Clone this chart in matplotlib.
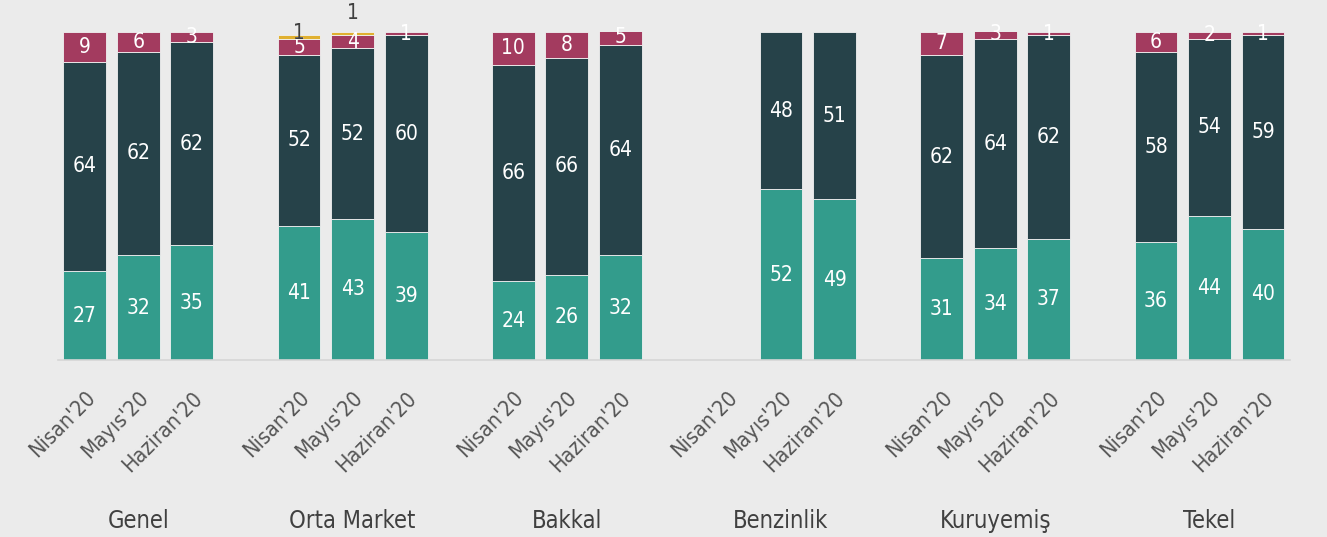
import matplotlib
matplotlib.use("Agg")
import matplotlib.pyplot as plt
import numpy as np

groups = ["Genel", "Orta Market", "Bakkal", "Benzinlik", "Kuruyemiş", "Tekel"]
months = ["Nisan'20", "Mayıs'20", "Haziran'20"]

# values per group, per month (Nisan, Mayıs, Haziran); None = no bar
teal = [[27, 32, 35], [41, 43, 39], [24, 26, 32], [None, 52, 49], [31, 34, 37], [36, 44, 40]]
dark = [[64, 62, 62], [52, 52, 60], [66, 66, 64], [None, 48, 51], [62, 64, 62], [58, 54, 59]]
maroon = [[9, 6, 3], [5, 4, 1], [10, 8, 5], [None, 0, 0], [7, 3, 1], [6, 2, 1]]
yellow = [[0, 0, 0], [1, 1, 0], [0, 0, 0], [None, 0, 0], [0, 0, 0], [0, 0, 0]]

colors = ["#339C8C", "#264249", "#A33B5F", "#E0B030"]
bg = "#EBEBEB"

plt.rcParams['font.family'] = ['DejaVu Sans']
plt.rcParams['font.stretch'] = 'condensed'

fig = plt.figure(figsize=(13.27, 5.37), dpi=100, facecolor=bg)
ax = fig.add_axes([0.0437, 0.3296, 0.9283, 0.6108], facecolor=bg)

xpos, xlabels = [], []
for gi in range(len(groups)):
    for mi in range(len(months)):
        x = gi * 4 + mi
        xpos.append(x)
        xlabels.append(months[mi])
        if teal[gi][mi] is None:
            continue
        segs = [teal[gi][mi], dark[gi][mi], maroon[gi][mi], yellow[gi][mi]]
        bottom = 0
        for si, v in enumerate(segs):
            if v == 0:
                continue
            ax.bar(x, v, bottom=bottom, width=0.8, color=colors[si],
                   edgecolor="#F2F2F2", linewidth=0.6)
            if si < 3:
                ax.text(x, bottom + v / 2, str(v), ha="center", va="center",
                        color="white", fontsize=15)
            else:
                # yellow labels placed by hand in the original
                dy = 3 if mi == 0 else 15
                ax.annotate(str(v), (x, bottom + v / 2), xytext=(0, dy),
                            textcoords="offset points", ha="center", va="center",
                            color="#404040", fontsize=15)
            bottom += v

ax.set_xlim(-0.5, 22.5)
ax.set_ylim(0, 100)
ax.set_yticks([])
ax.set_xticks(xpos)
ax.set_xticklabels(xlabels, rotation=45, ha="right", rotation_mode="anchor",
                   fontsize=15.5, color="#555555")
ax.tick_params(axis="x", length=0, pad=20)
for s in ["top", "left", "right"]:
    ax.spines[s].set_visible(False)
ax.spines["bottom"].set_color("#D6D6D6")
ax.spines["bottom"].set_linewidth(1.2)

for gi, g in enumerate(groups):
    ax.text(gi * 4 + 1, -0.49, g, transform=ax.get_xaxis_transform(),
            ha="center", va="center", fontsize=17, color="#404040")

fig.savefig("out.png", dpi=100, facecolor=bg)
